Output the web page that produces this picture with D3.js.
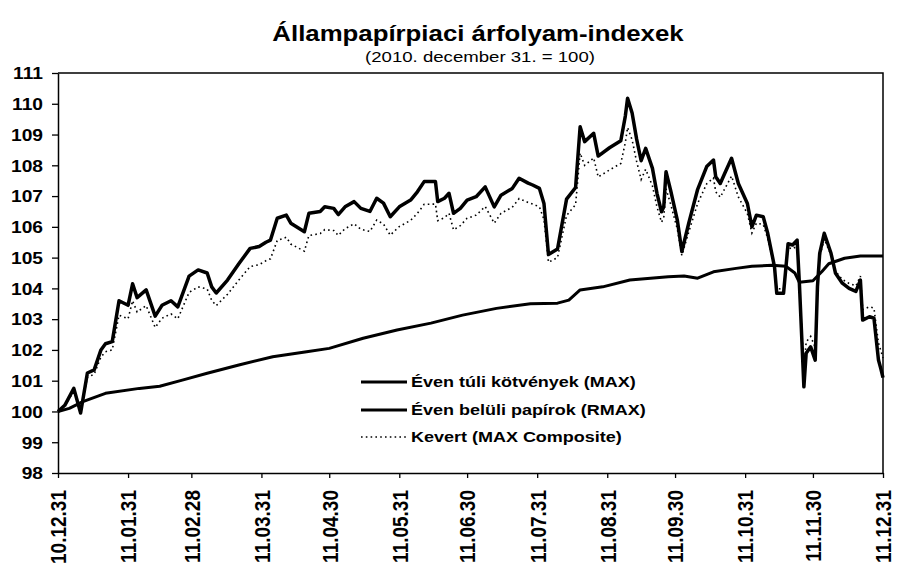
<!DOCTYPE html>
<html>
<head>
<meta charset="utf-8">
<script src="https://cdn.jsdelivr.net/npm/d3@7"></script>
<style>
body { margin: 0; background: #fff; }
text { font-family: Arial, "Liberation Sans", sans-serif; fill: #000; }
</style>
</head>
<body>
<div id="chart"></div>
<script>
// days counted from 2010-12-31
var baseDate = new Date(2010, 11, 31);

var maxDays = [0,3,7,10,13,16,19,21,24,27,
  31,33,35,39,43,46,50,53,58,62,
  66,68,70,75,80,85,89,92,94,97,
  101,103,109,111,116,118,122,124,127,131,
  134,138,141,144,147,151,156,159,162,167,
  168,171,173,175,178,181,185,189,193,196,
  201,204,208,210,213,215,217,221,225,229,
  231,233,237,239,244,249,251,252,254,256,
  258,260,263,265,267,268,269,271,274,276,
  279,283,287,290,291,293,295,298,301,305,
  307,309,312,314,317,318,321,323,325,327,
  328,330,331,333,335,336,337,339,342,344,
  347,350,353,355,356,359,361,363,364,365];

// Éven túli kötvények (MAX)
var maxValues = [100.0,100.2,100.75,99.95,101.25,101.35,102.0,102.2,102.27,103.6,
  103.45,104.15,103.7,103.95,103.1,103.45,103.6,103.4,104.4,104.6,
  104.5,104.05,103.85,104.27,104.8,105.3,105.36,105.5,105.57,106.28,
  106.38,106.12,105.84,106.44,106.5,106.65,106.6,106.4,106.65,106.82,
  106.6,106.5,106.93,106.77,106.33,106.65,106.87,107.14,107.47,107.47,
  106.82,106.93,107.09,106.44,106.6,106.87,106.98,107.3,106.65,107.03,
  107.25,107.58,107.42,107.36,107.25,106.76,105.1,105.28,106.9,107.28,
  109.25,108.77,109.04,108.3,108.57,108.8,109.6,110.18,109.7,108.85,
  108.15,108.55,107.9,107.09,106.49,106.65,107.79,107.2,106.22,105.2,
  106.1,107.22,107.96,108.17,107.63,107.41,107.74,108.23,107.41,106.76,
  106.0,106.38,106.33,105.79,104.7,103.84,103.84,105.45,105.41,105.57,
  104.17,100.8,101.89,102.1,101.67,104.05,105.14,105.79,105.14,104.49,
  104.17,104.0,103.9,104.27,102.97,103.08,103.03,101.67,101.4,101.1];

// Kevert (MAX Composite), same days as MAX
var mixValues = [100.0,100.18,100.66,100.0,101.11,101.21,101.77,101.94,102.0,103.13,
  103.01,103.6,103.23,103.44,102.73,103.03,103.17,103.01,103.87,104.05,
  103.98,103.61,103.44,103.81,104.27,104.71,104.77,104.9,104.96,105.56,
  105.66,105.44,105.21,105.72,105.78,105.91,105.88,105.72,105.94,106.1,
  105.92,105.85,106.22,106.09,105.73,106.01,106.21,106.44,106.73,106.74,
  106.2,106.3,106.44,105.9,106.04,106.28,106.38,106.66,106.12,106.44,
  106.64,106.92,106.79,106.74,106.65,106.24,104.85,105.0,106.37,106.72,
  108.4,108.0,108.24,107.62,107.85,108.06,108.74,109.23,108.83,108.12,
  107.54,107.87,107.33,106.65,106.15,106.29,107.24,106.75,105.93,105.07,
  105.82,106.76,107.4,107.59,107.14,106.96,107.24,107.65,106.97,106.43,
  105.8,106.12,106.08,105.62,104.71,103.99,103.98,105.33,105.28,105.38,
  104.17,101.34,102.26,102.44,102.08,104.09,105.03,105.6,105.09,104.56,
  104.29,104.16,104.08,104.4,103.31,103.4,103.36,102.22,101.99,101.74];

// Éven belüli papírok (RMAX)
var rmaxDays = [0,5,11,21,36,45,55,66,80,95,
  110,120,135,150,165,179,194,209,221,226,
  231,241,253,270,277,283,290,300,307,316,
  322,326,328,334,338,341,348,355,365];
var rmaxValues = [100.0,100.1,100.32,100.59,100.75,100.82,101.02,101.24,101.51,101.78,
  101.94,102.05,102.38,102.65,102.87,103.13,103.35,103.5,103.52,103.62,
  103.95,104.05,104.27,104.38,104.4,104.33,104.54,104.65,104.72,104.75,
  104.72,104.5,104.2,104.25,104.55,104.8,104.98,105.05,105.05];

var tickLabels = ["10.12.31","11.01.31","11.02.28","11.03.31","11.04.30","11.05.31",
  "11.06.30","11.07.31","11.08.31","11.09.30","11.10.31","11.11.30","11.12.31"];
var yTicks = [98,99,100,101,102,103,104,105,106,107,108,109,110,111];
var seriesNames = ["Éven túli kötvények (MAX)", "Éven belüli papírok (RMAX)", "Kevert (MAX Composite)"];

var width = 900, height = 566;
var plotLeft = 58, plotRight = 883, plotTop = 73, plotBottom = 473;
var sx = 1.2; // the scan is a bit wider than tall

var parseTick = d3.timeParse("%y.%m.%d");
var tickDates = tickLabels.map(parseTick);

var svg = d3.select("#chart").append("svg")
  .attr("width", width)
  .attr("height", height);

var x = d3.scaleTime()
  .domain([baseDate, tickDates[tickDates.length - 1]])
  .range([plotLeft, plotRight]);

var y = d3.scaleLinear()
  .domain([98, 111])
  .range([plotBottom, plotTop]);

function toPoints(days, values) {
  return days.map(function (d, i) {
    return { date: d3.timeDay.offset(baseDate, d), value: values[i] };
  });
}

var line = d3.line()
  .x(function (d) { return x(d.date); })
  .y(function (d) { return y(d.value); });

// title
svg.append("g")
  .attr("transform", "translate(478,41) scale(" + sx + ",1)")
  .append("text")
  .attr("text-anchor", "middle")
  .style("font-size", "21.5px")
  .style("font-weight", "bold")
  .text("Állampapírpiaci árfolyam-indexek");

svg.append("g")
  .attr("transform", "translate(480,62) scale(" + sx + ",1)")
  .append("text")
  .attr("text-anchor", "middle")
  .style("font-size", "15.5px")
  .text("(2010. december 31. = 100)");

// frame top and right
svg.append("path")
  .attr("d", "M" + plotLeft + "," + plotTop + "H" + plotRight + "V" + plotBottom)
  .attr("fill", "none")
  .attr("stroke", "#000")
  .attr("stroke-width", 1.5);

// y axis
var yAxis = svg.append("g")
  .attr("transform", "translate(" + plotLeft + ",0)")
  .call(d3.axisLeft(y).tickValues(yTicks).tickSize(6).tickSizeOuter(0).tickFormat(d3.format("d")));
yAxis.select(".domain").attr("stroke-width", 1.5);
yAxis.selectAll(".tick line").attr("stroke-width", 1.3);
yAxis.selectAll(".tick text")
  .attr("x", -15 / sx)
  .attr("dy", "0.36em")
  .attr("transform", "scale(" + sx + ",1)")
  .style("font-size", "16px")
  .style("font-weight", "bold");

// x axis
var xAxis = svg.append("g")
  .attr("transform", "translate(0," + plotBottom + ")")
  .call(d3.axisBottom(x).tickValues(tickDates).tickSize(5).tickSizeOuter(0).tickFormat(d3.timeFormat("%y.%m.%d")));
xAxis.select(".domain").attr("stroke-width", 1.5);
xAxis.selectAll(".tick line").attr("stroke-width", 1.3);
xAxis.selectAll(".tick text")
  .attr("x", 0)
  .attr("y", 0)
  .attr("dy", "0.36em")
  .attr("text-anchor", "end")
  .attr("transform", "translate(0,17) scale(1.15,1) rotate(-90)")
  .style("font-size", "19px")
  .style("font-weight", "bold");

// lines
svg.append("path")
  .datum(toPoints(maxDays, mixValues))
  .attr("d", line)
  .attr("fill", "none")
  .attr("stroke", "#000")
  .attr("stroke-width", 1.6)
  .attr("stroke-dasharray", "1.6,3.2");

svg.append("path")
  .datum(toPoints(rmaxDays, rmaxValues))
  .attr("d", line)
  .attr("fill", "none")
  .attr("stroke", "#000")
  .attr("stroke-width", 3)
  .attr("stroke-linejoin", "round");

svg.append("path")
  .datum(toPoints(maxDays, maxValues))
  .attr("d", line)
  .attr("fill", "none")
  .attr("stroke", "#000")
  .attr("stroke-width", 3.5)
  .attr("stroke-linejoin", "round");

// legend
var legendRows = [382, 410, 437];
var legendStyles = [
  { w: 3, dash: null },
  { w: 3, dash: null },
  { w: 1.6, dash: "1.6,3.2" }
];
var legend = svg.selectAll(".legend")
  .data(seriesNames)
  .enter()
  .append("g")
  .attr("class", "legend")
  .attr("transform", function (d, i) { return "translate(0," + legendRows[i] + ")"; });

legend.append("line")
  .attr("x1", 361)
  .attr("x2", 407)
  .attr("stroke", "#000")
  .attr("stroke-width", function (d, i) { return legendStyles[i].w; })
  .attr("stroke-dasharray", function (d, i) { return legendStyles[i].dash; });

legend.append("g")
  .attr("transform", "translate(411,0) scale(" + sx + ",1)")
  .append("text")
  .attr("dy", "0.36em")
  .style("font-size", "15px")
  .style("font-weight", "bold")
  .text(function (d) { return d; });
</script>
</body>
</html>
